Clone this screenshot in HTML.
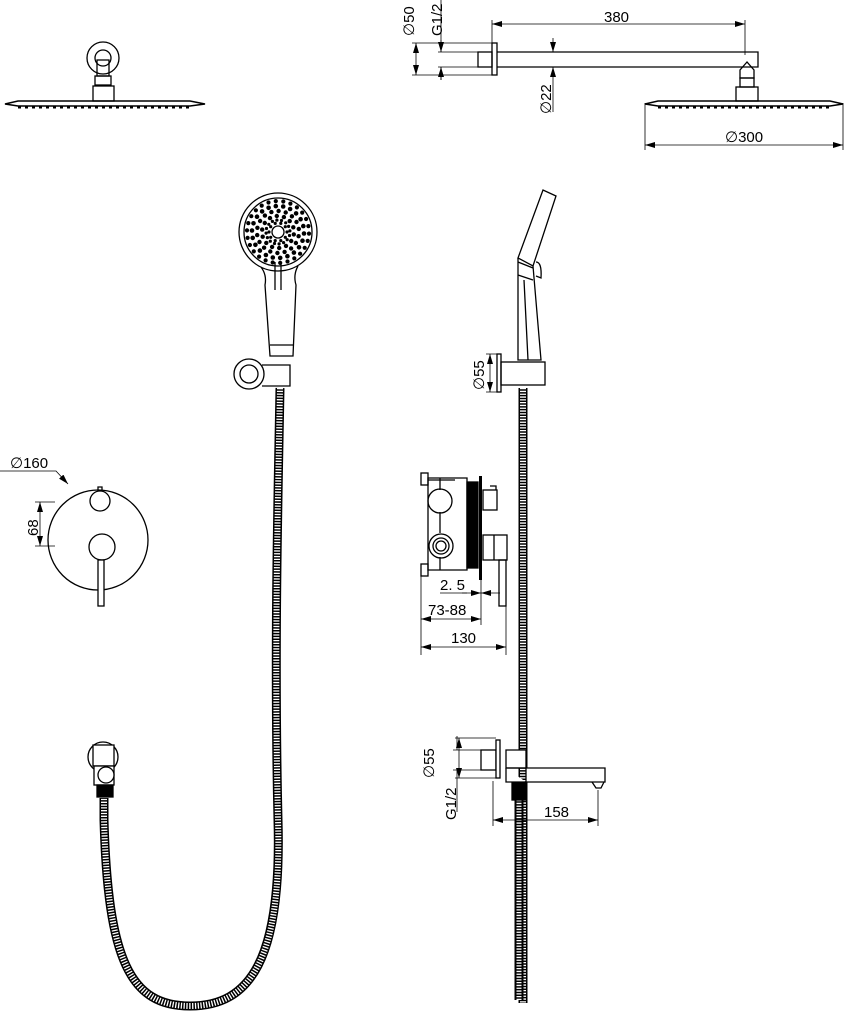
<!DOCTYPE html>
<html><head><meta charset="utf-8"><style>
html,body{margin:0;padding:0;background:#fff}
svg{display:block}
text{font-family:"Liberation Sans",sans-serif;font-size:15px;fill:#000}
</style></head><body>
<svg id="s" width="846" height="1014" viewBox="0 0 846 1014" xmlns="http://www.w3.org/2000/svg">
<defs>
<marker id="a" viewBox="0 0 10 6" refX="10" refY="3" markerWidth="10" markerHeight="6" orient="auto-start-reverse" markerUnits="userSpaceOnUse"><path d="M0,0 L10,3 L0,6 z" fill="#000"/></marker>
</defs>
<g fill="none" stroke="#000" stroke-width="1.3">
<circle cx="103" cy="58" r="16"/><circle cx="103" cy="58" r="8"/>
<rect x="97" y="60" width="12" height="16"/><rect x="95" y="76" width="16" height="9"/>
<rect x="93" y="86" width="21" height="15"/>
<path d="M5,104 L18,101 L190,101 L205,104 L190,106 L18,106 Z" stroke-width="1.6"/>
<path d="M18,107 H190" stroke-dasharray="3 4" stroke-width="3"/>
<rect x="478" y="52" width="14" height="15"/>
<rect x="492" y="43" width="5" height="32"/>
<path d="M497,52 H758 V67 H497"/>
<path d="M747,62 L740,70 L740,78 L754,78 L754,70 Z"/>
<rect x="740" y="78" width="14" height="9"/><rect x="736" y="87" width="22" height="14"/>
<path d="M645,104 L658,101 L830,101 L843,104 L830,106 L658,106 Z" stroke-width="1.6"/>
<path d="M658,107 H830" stroke-dasharray="3 4" stroke-width="3"/>
<path d="M492,20 V43 M745,20 V55 M412,43 H492 M412,75 H492 M438,52 H478 M438,67 H478" stroke-width="0.8"/>
<path d="M492,24 H745" marker-start="url(#a)" marker-end="url(#a)" stroke-width="0.8"/>
<path d="M416,43 V75" marker-start="url(#a)" marker-end="url(#a)" stroke-width="0.8"/>
<path d="M441,0 V52 M441,67 V80" stroke-width="0.8"/>
<path d="M441,40 V52" marker-end="url(#a)" stroke-width="0.8"/><path d="M441,80 V67" marker-end="url(#a)" stroke-width="0.8"/>
<path d="M553,38 V52" marker-end="url(#a)" stroke-width="0.8"/><path d="M553,112 V67" marker-end="url(#a)" stroke-width="0.8"/>
<path d="M645,103 V150 M843,103 V150" stroke-width="0.8"/>
<path d="M645,145 H843" marker-start="url(#a)" marker-end="url(#a)" stroke-width="0.8"/>

<circle cx="278" cy="232" r="39"/><circle cx="278" cy="232" r="34"/>
<circle cx="278" cy="232" r="6"/>
<path d="M261,267 Q267,275 265,285 L270,356 L293,356 L296,285 Q293,275 298,266"/>
<path d="M275,262 V290 M281,262 V290"/>
<path d="M270,345 H293"/>
<circle cx="249" cy="374" r="15"/><circle cx="249" cy="374" r="9"/>
<path d="M262,365 H290 V386 H262"/>
<path d="M280,388 C278,500 274,650 278,820 C282,960 250,1006 190,1006 C130,1006 108,960 104,820 L104,798" stroke="#000" stroke-width="9"/>
<path d="M280,388 C278,500 274,650 278,820 C282,960 250,1006 190,1006 C130,1006 108,960 104,820 L104,798" stroke="#fff" stroke-width="6" stroke-dasharray="1.3 1.5"/>
<circle cx="103" cy="757" r="15"/>
<rect x="93" y="745" width="21" height="21" fill="#fff"/>
<rect x="94" y="766" width="20" height="19" fill="#fff"/>
<circle cx="106" cy="775" r="8" fill="#fff"/>
<rect x="97" y="785" width="16" height="12" fill="#000"/>

<circle cx="98" cy="540" r="50"/>
<circle cx="100" cy="501" r="10"/><path d="M98,491 V487 H102 V491"/>
<circle cx="102" cy="547" r="13"/>
<rect x="98" y="560" width="6" height="46" fill="#fff"/>
<path d="M0,471 H56 L68,484" stroke-width="0.8" marker-end="url(#a)"/>
<path d="M35,502 H55 M35,546 H55" stroke-width="0.8"/>
<path d="M40,502 V546" stroke-width="0.8" marker-start="url(#a)" marker-end="url(#a)"/>

<rect x="421" y="473" width="7" height="12"/><rect x="421" y="564" width="7" height="12"/>
<path d="M428,478 H467 V570 H428 Z M428,480 H455 M440,478 V490 M440,512 V533 M440,557 V570"/>
<rect x="467" y="482" width="11" height="86" fill="#000"/>
<rect x="479" y="476" width="3" height="104" fill="#000" stroke="none"/>
<circle cx="440" cy="501" r="12"/>
<circle cx="441" cy="546" r="12"/><circle cx="441" cy="546" r="8"/><circle cx="441" cy="546" r="5"/>
<rect x="483" y="490" width="14" height="20"/><path d="M490,486 H496 V490"/>
<rect x="483" y="535" width="24" height="25"/><path d="M494,535 V560"/>
<rect x="499" y="560" width="7" height="46"/>
<path d="M421,576 V655 M506,606 V655 M481,580 V625" stroke-width="0.8"/>
<path d="M440,593 H467" stroke-width="0.8"/>
<path d="M462,593 H481" marker-end="url(#a)" stroke-width="0.8"/><path d="M500,593 H481" marker-end="url(#a)" stroke-width="0.8"/>
<path d="M421,619 H481" marker-start="url(#a)" marker-end="url(#a)" stroke-width="0.8"/>
<path d="M421,647 H506" marker-start="url(#a)" marker-end="url(#a)" stroke-width="0.8"/>

<path d="M518,258 L543,190 L556,196 L533,266 Z"/>
<path d="M518,258 L518,360 L541,360 L533,266"/>
<path d="M518,262 L533,268 M518,275 L533,280 M524,280 L528,360"/>
<path d="M536,262 Q542,262 541,278 L536,276"/>
<rect x="497" y="354" width="4" height="38"/>
<rect x="501" y="362" width="44" height="23"/>
<path d="M486,354 H500 M486,392 H500" stroke-width="0.8"/>
<path d="M490,354 V392" marker-start="url(#a)" marker-end="url(#a)" stroke-width="0.8"/>
<path d="M523,388 V1003" stroke-width="9"/>
<path d="M523,388 V1003" stroke="#fff" stroke-width="6" stroke-dasharray="1.3 1.5"/>
<path d="M519,800 V1000" stroke-width="9"/>
<path d="M519,800 V1000" stroke="#fff" stroke-width="5" stroke-dasharray="1.3 1.5"/>
<rect x="481" y="750" width="15" height="20" fill="#fff"/>
<rect x="496" y="740" width="4" height="38" fill="#fff"/>
<path d="M506,750 H526 V768 H506 Z" fill="#fff"/>
<path d="M506,768 H605 V782 H526 L526,768 M506,768 V782 H526" fill="#fff"/>
<path d="M592,782 L596,788 H601 L604,782"/>
<rect x="512" y="783" width="14" height="17" fill="#000"/>
<path d="M455,738 H496 M455,778 H496 M453,750 H481 M453,770 H481 M493,781 V826 M598,790 V826" stroke-width="0.8"/>
<path d="M459,738 V778" marker-start="url(#a)" marker-end="url(#a)" stroke-width="0.8"/>
<path d="M457,736 V750 M457,770 V812" stroke-width="0.8"/>
<path d="M493,820 H598" marker-start="url(#a)" marker-end="url(#a)" stroke-width="0.8"/>
</g>
<g id="dots" fill="#000"></g>
<text x="604" y="22">380</text>
<text x="725" y="142">∅300</text>
<text transform="translate(414,36) rotate(-90)">∅50</text>
<text transform="translate(442,36) rotate(-90)">G1/2</text>
<text transform="translate(551,114) rotate(-90)">∅22</text>
<text x="10" y="468">∅160</text>
<text transform="translate(38,536) rotate(-90)">68</text>
<text transform="translate(484,390) rotate(-90)">∅55</text>
<text x="440" y="590">2. 5</text>
<text x="428" y="615">73-88</text>
<text x="451" y="643">130</text>
<text transform="translate(434,778) rotate(-90)">∅55</text>
<text transform="translate(456,820) rotate(-90)">G1/2</text>
<text x="544" y="817">158</text>
</svg>
<script>
var g=document.getElementById('dots'),h='';
var rings=[[9,10,1.6],[12,16,1.6],[16,14,2.2],[21,18,2.2],[26,22,2.3],[31,26,2.1]];
rings.forEach(function(r,i){for(var k=0;k<r[1];k++){var a=k/r[1]*2*Math.PI+i*0.3;h+='<circle cx="'+(278+r[0]*Math.cos(a)).toFixed(1)+'" cy="'+(232+r[0]*Math.sin(a)).toFixed(1)+'" r="'+r[2]+'"/>';}});
g.innerHTML=h;
</script>
</body></html>
